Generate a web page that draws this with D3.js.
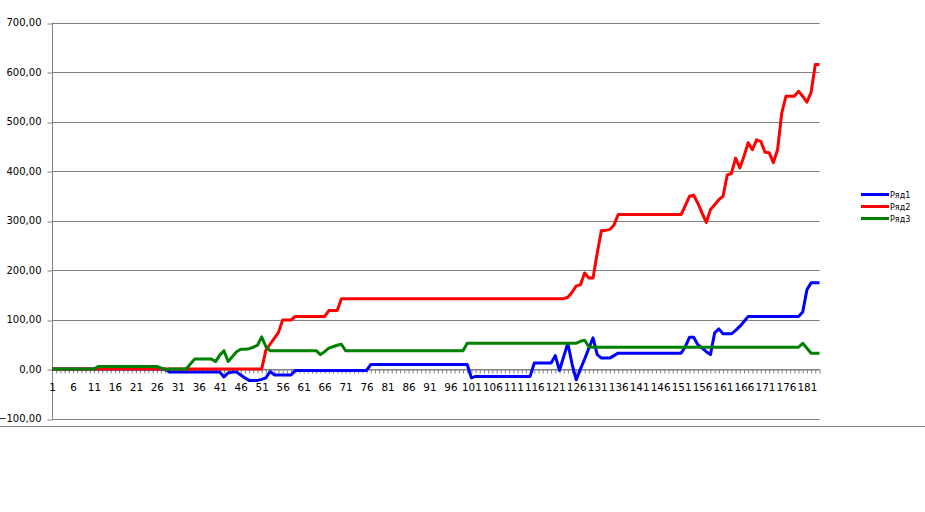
<!DOCTYPE html>
<html>
<head>
<meta charset="utf-8">
<script src="https://cdn.jsdelivr.net/npm/d3@7"></script>
<style>
  html, body { margin: 0; padding: 0; background: #fff; }
  svg { display: block; }
  text { font-family: "DejaVu Sans", Verdana, sans-serif; fill: #000; }
</style>
</head>
<body>
<svg id="chart" width="925" height="512"></svg>
<script>
// ---- data ----
const seriesNames = ["Ряд1", "Ряд2", "Ряд3"];
const seriesColors = ["#0000ff", "#ff0000", "#008000"];
const yTicks = [-100, 0, 100, 200, 300, 400, 500, 600, 700];

const blue = [
  0,0,0,0,0,0,0,0,0,0,
  0,0,0,0,0,0,0,0,0,0,
  0,0,0,0,0,0,0,0,-6,-6,
  -6,-6,-6,-6,-6,-6,-6,-6,-6,-6,
  -6,-16,-8,-6,-6,-12,-18,-23,-23,-23,
  -21,-18,-5,-12,-12,-12,-12,-12,-3,-3,
  -3,-3,-3,-3,-3,-3,-3,-3,-3,-3,
  -3,-3,-3,-3,-3,-3,9,9,9,9,
  9,9,9,9,9,9,9,9,9,9,
  9,9,9,9,9,9,9,9,9,9,
  -18,-15,-15,-15,-15,-15,-15,-15,-15,-15,
  -15,-15,-15,-15,-15,12,12,12,12,12,
  27,-3,25,52,10,-22,0,20,42,63,
  29,22,22,22,27,32,32,32,32,32,
  32,32,32,32,32,32,32,32,32,32,
  32,45,64,64,49,42,35,29,73,81,
  71,71,71,78,86,96,106,106,106,106,
  106,106,106,106,106,106,106,106,106,115,
  160,174,174,174
];

const red = [
  0,0,0,0,0,0,0,0,0,0,
  0,0,0,0,0,0,0,0,0,0,
  0,0,0,0,0,0,0,0,0,0,
  0,0,0,0,0,0,0,0,0,0,
  0,0,0,0,0,0,0,0,0,0,
  0,38,50,62,74,99,99,99,106,106,
  106,106,106,106,106,106,118,118,118,142,
  142,142,142,142,142,142,142,142,142,142,
  142,142,142,142,142,142,142,142,142,142,
  142,142,142,142,142,142,142,142,142,142,
  142,142,142,142,142,142,142,142,142,142,
  142,142,142,142,142,142,142,142,142,142,
  142,142,142,145,155,168,170,194,184,184,
  234,280,280,282,291,312,312,312,312,312,
  312,312,312,312,312,312,312,312,312,312,
  312,330,349,351,335,315,296,322,332,342,
  349,392,395,426,406,430,457,443,463,460,
  438,437,417,443,517,551,551,551,561,551,
  539,559,615,615
];

const green = [
  0,0,0,0,0,0,0,0,0,0,
  0,5,5,5,5,5,5,5,5,5,
  5,5,5,5,5,5,2,-2,0,0,
  0,0,0,10,20,20,20,20,20,15,
  28,37,15,25,35,40,40,41,44,48,
  65,45,37,37,37,37,37,37,37,37,
  37,37,37,37,29,35,42,45,48,50,
  37,37,37,37,37,37,37,37,37,37,
  37,37,37,37,37,37,37,37,37,37,
  37,37,37,37,37,37,37,37,37,52,
  52,52,52,52,52,52,52,52,52,52,
  52,52,52,52,52,52,52,52,52,52,
  52,52,52,52,52,52,56,58,45,44,
  44,44,44,44,44,44,44,44,44,44,
  44,44,44,44,44,44,44,44,44,44,
  44,44,44,44,44,44,44,44,44,44,
  44,44,44,44,44,44,44,44,44,44,
  44,44,44,44,44,44,44,44,44,52,
  42,32,32,32
];

const categories = d3.range(1, blue.length + 1);
const seriesValues = [blue, red, green];

// ---- layout ----
const svg = d3.select("#chart");
const plotLeft = 52, plotRight = 819.5, plotTop = 22.5, plotBottom = 418.5;

const x = d3.scalePoint().domain(categories).range([plotLeft, plotRight]);
const y = d3.scaleLinear().domain([-100, 700]).range([plotBottom, plotTop]);

// bottom chart-area border line
svg.append("line")
  .attr("x1", 0).attr("x2", 925)
  .attr("y1", 426.5).attr("y2", 426.5)
  .attr("stroke", "#808080").attr("stroke-width", 1);

// gridlines
svg.append("g").selectAll("line").data(yTicks).join("line")
  .attr("x1", plotLeft).attr("x2", plotRight)
  .attr("y1", d => Math.round(y(d)) + 0.5).attr("y2", d => Math.round(y(d)) + 0.5)
  .attr("stroke", "#808080").attr("stroke-width", 1);

// y axis
const yAxis = d3.axisLeft(y).tickValues(yTicks).tickSize(5)
  .tickFormat(d => d3.format(".2f")(d).replace(".", ","));
const gy = svg.append("g").attr("transform", `translate(${plotLeft + 0.5},0)`).call(yAxis);
gy.select(".domain").remove();
gy.append("line").attr("x1", 0).attr("x2", 0).attr("y1", plotTop).attr("y2", plotBottom + 0.5)
  .attr("stroke", "#808080");
gy.selectAll(".tick line").attr("stroke", "#808080")
  .attr("transform", d => `translate(0,${Math.round(y(d)) + 0.5 - y(d)})`);
gy.selectAll(".tick text").attr("font-size", "10px").attr("x", -11)
  .attr("font-family", "DejaVu Sans, Verdana, sans-serif");

// x axis at zero
const y0 = Math.round(y(0)) + 0.5;
const xAxis = d3.axisBottom(x).tickSize(4).tickSizeOuter(0)
  .tickFormat(d => ((d - 1) % 5 === 0 ? d : ""));
const gx = svg.append("g").attr("transform", `translate(0,${y0})`).call(xAxis);
gx.select(".domain").attr("stroke", "#808080");
gx.selectAll(".tick line").attr("stroke", "#808080");
gx.selectAll(".tick text").attr("font-size", "10.4px").attr("dy", "1.4em")
  .attr("font-family", "DejaVu Sans, Verdana, sans-serif");

// lines
const line = d3.line().x((d, i) => x(categories[i])).y(d => y(d));
svg.append("g").selectAll("path").data(seriesValues).join("path")
  .attr("d", d => line(d))
  .attr("fill", "none")
  .attr("stroke", (d, i) => seriesColors[i])
  .attr("stroke-width", 3)
  .attr("stroke-linejoin", "round")
  .attr("stroke-linecap", "butt");

// legend
const lg = svg.append("g").attr("transform", "translate(861,194.5)");
const items = lg.selectAll("g").data(seriesNames).join("g")
  .attr("transform", (d, i) => `translate(0,${i * 12})`);
items.append("line").attr("x1", 0).attr("x2", 28).attr("y1", 0).attr("y2", 0)
  .attr("stroke", (d, i) => seriesColors[i]).attr("stroke-width", 3);
items.append("text").attr("x", 29).attr("y", 3).attr("font-size", "8px").text(d => d);
</script>
</body>
</html>
